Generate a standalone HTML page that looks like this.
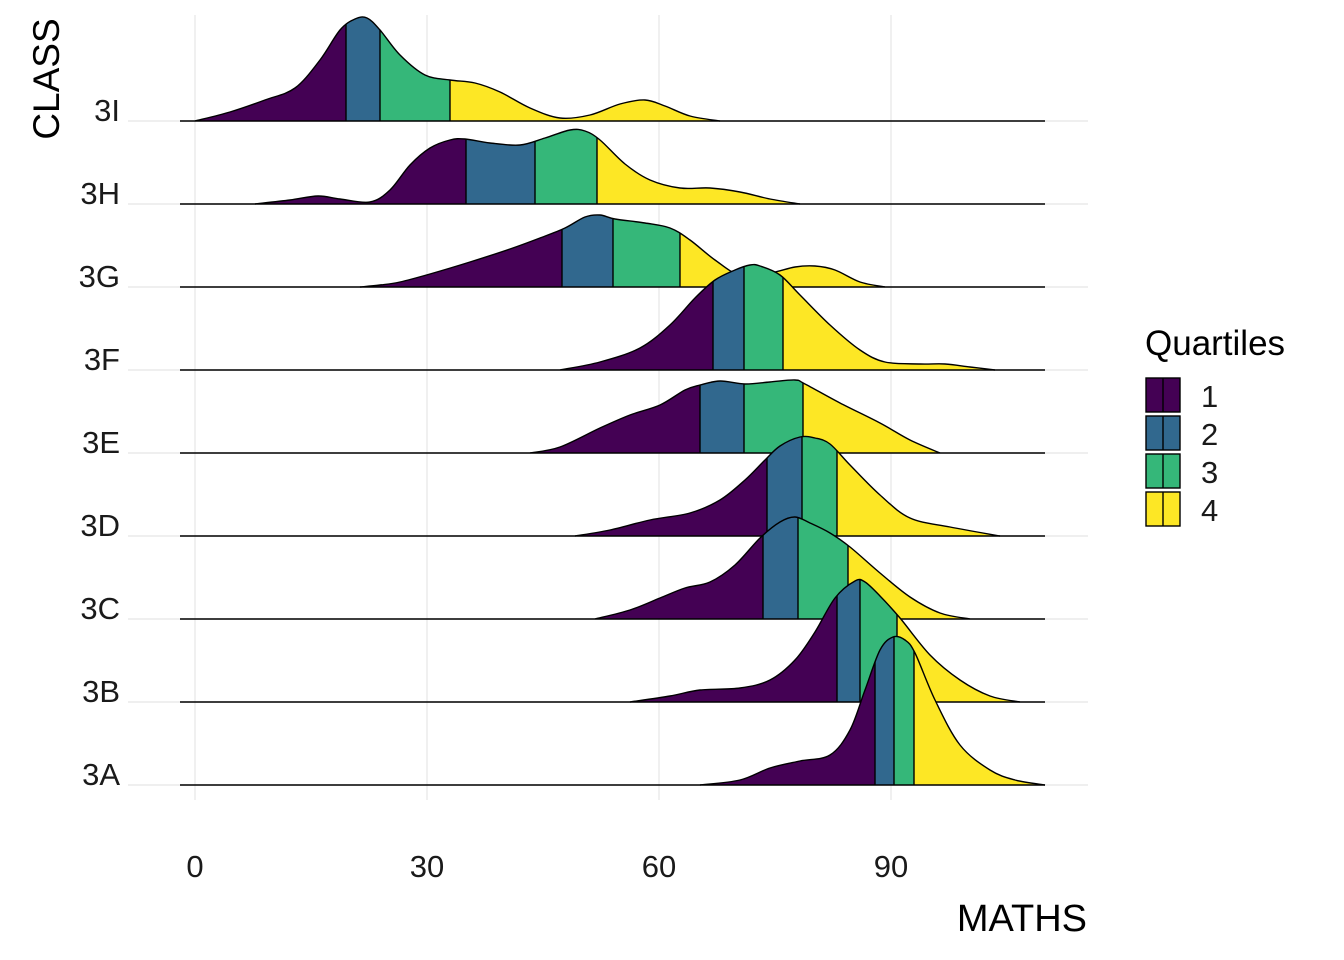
<!DOCTYPE html>
<html><head><meta charset="utf-8"><style>
html,body{margin:0;padding:0;background:#fff;}
svg{display:block;font-family:"Liberation Sans",Arial,sans-serif;}
</style></head><body>
<svg id="s" width="1344" height="960" xmlns="http://www.w3.org/2000/svg"></svg>
<script>
const S=document.getElementById('s');
const C=['#440154','#31688E','#35B779','#FDE725'];
let h='';
[195,427,659,891].forEach(x=>h+=`<line x1="${x}" y1="15" x2="${x}" y2="800" stroke="#e5e5e5" stroke-width="1.2"/>`);
const ridges=[
['3I',121,[[195,121],[230,112],[265,100],[295,88],[320,60],[340,30],[355,19],[367,18],[380,30],[400,55],[425,75],[450,80],[475,83],[500,92],[530,108],[560,118],[590,115],[620,104],[645,100],[665,106],[690,116],[720,121]],[346,380,450]],
['3H',204,[[255,204],[290,200],[318,196],[340,199],[370,202],[390,190],[410,165],[430,148],[450,140],[465,139],[490,143],[520,145],[545,138],[570,130],[585,131],[600,140],[625,164],[650,180],[680,188],[710,188],[740,192],[770,199],[800,204]],[466,535,597]],
['3G',287,[[360,287],[380,285],[400,282],[430,274],[470,262],[510,249],[540,238],[565,228],[585,217],[600,215],[615,219],[645,223],[670,228],[690,240],[715,260],[740,275],[770,273],[795,267],[815,266],[835,270],[860,282],[885,287]],[562,613,680]],
['3F',370,[[560,370],[600,362],[640,348],[670,325],[695,298],[715,280],[735,270],[750,265],[760,266],[780,275],[800,295],[830,325],[860,350],[885,362],[920,364],[945,364],[970,367],[995,370]],[713,744,783]],
['3E',453,[[530,453],[560,447],[600,428],[630,415],[660,405],[685,390],[700,385],[720,381],[745,384],[770,382],[795,380],[805,384],[840,403],[880,423],[910,440],[940,453]],[700,744,803]],
['3D',536,[[575,536],[610,530],[650,520],[690,513],[720,500],[745,480],[765,460],[780,446],[800,437],[815,438],[830,444],[850,465],[880,495],[910,518],[950,527],[1000,536]],[767,802,837]],
['3C',619,[[595,619],[630,610],[660,598],[685,588],[710,582],[735,565],[760,538],[780,522],[795,517],[810,523],[830,533],[850,547],[880,573],[910,597],[940,613],[970,619]],[763,798,848]],
['3B',702,[[630,702],[670,696],[700,690],[740,688],[770,680],[795,660],[815,632],[835,598],[855,581],[865,582],[880,596],[900,618],[930,655],[960,680],[990,696],[1020,702]],[837,860,897]],
['3A',785,[[700,785],[740,780],[770,768],[800,761],[830,755],[850,730],[865,690],[880,650],[893,637],[905,640],[915,653],[935,700],[960,745],[990,770],[1015,780],[1045,785]],[875,894,914]]
];
ridges.forEach(r=>h+=`<line x1="128" y1="${r[1]}" x2="1088" y2="${r[1]}" stroke="#e5e5e5" stroke-width="1.2"/>`);
function smooth(p){let d=`M${p[0][0]},${p[0][1]}`;for(let i=0;i<p.length-1;i++){const p0=p[i-1]||p[i],p1=p[i],p2=p[i+1],p3=p[i+2]||p2;
const c1=[p1[0]+(p2[0]-p0[0])/6,p1[1]+(p2[1]-p0[1])/6],c2=[p2[0]-(p3[0]-p1[0])/6,p2[1]-(p3[1]-p1[1])/6];
d+=` C${c1[0]},${c1[1]} ${c2[0]},${c2[1]} ${p2[0]},${p2[1]}`;}return d;}
ridges.forEach((r,i)=>{const [lab,b,pts,q]=r;const d=smooth(pts);const closed=d+` L${pts[0][0]},${b} Z`;
h+=`<clipPath id="c${i}"><path d="${closed}"/></clipPath>`;
const xs=[pts[0][0],...q,pts[pts.length-1][0]];
for(let k=0;k<4;k++)h+=`<rect clip-path="url(#c${i})" x="${xs[k]}" y="0" width="${xs[k+1]-xs[k]}" height="${b+1}" fill="${C[k]}"/>`;
q.forEach(x=>h+=`<line clip-path="url(#c${i})" x1="${x}" y1="0" x2="${x}" y2="${b}" stroke="#000" stroke-width="1.4"/>`);
h+=`<path d="${d}" fill="none" stroke="#000" stroke-width="1.4"/>`;
h+=`<line x1="180" y1="${b}" x2="1045" y2="${b}" stroke="#000" stroke-width="1.4"/>`;
h+=`<text x="120" y="${b}" font-size="31" text-anchor="end" fill="#1a1a1a">${lab}</text>`;
});
[[195,'0'],[427,'30'],[659,'60'],[891,'90']].forEach(t=>h+=`<text x="${t[0]}" y="877" font-size="31" text-anchor="middle" fill="#1a1a1a">${t[1]}</text>`);
h+=`<text x="1087" y="931" font-size="38" text-anchor="end" fill="#000">MATHS</text>`;
h+=`<text transform="translate(59,79) rotate(-90)" font-size="37" text-anchor="middle" fill="#000">CLASS</text>`;
h+=`<text x="1145" y="355" font-size="35" fill="#000">Quartiles</text>`;
C.forEach((c,k)=>{const y=378+k*38;h+=`<rect x="1146" y="${y}" width="34" height="34" fill="${c}" stroke="#000" stroke-width="1.4"/><line x1="1163" y1="${y}" x2="1163" y2="${y+34}" stroke="#000" stroke-width="1.4"/><text x="1201" y="${y+29}" font-size="31" fill="#1a1a1a">${k+1}</text>`;});
S.innerHTML=h;
</script>
</body></html>
